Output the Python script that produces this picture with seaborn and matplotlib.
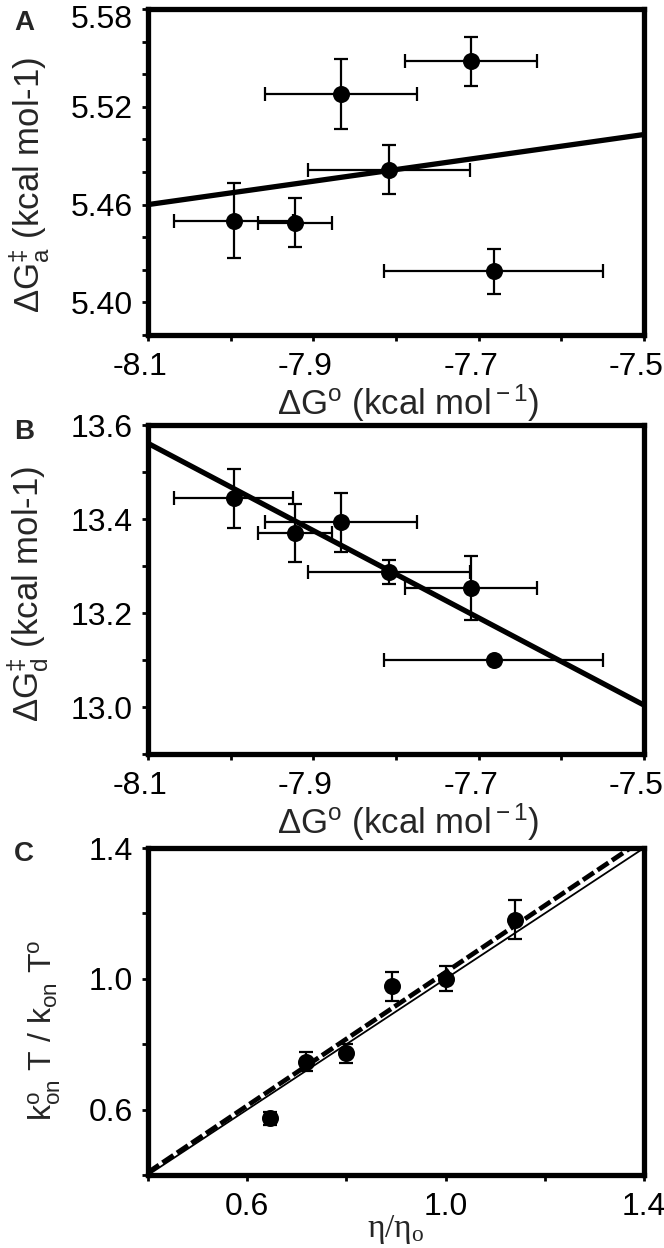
import numpy as np
import pandas as pd
import seaborn as sns
import matplotlib.pyplot as plt
import matplotlib.transforms as mtransforms
from matplotlib.ticker import MultipleLocator

# shared x for panels A and B
dg0 = [-7.996, -7.922, -7.867, -7.808, -7.709, -7.682]
dg0_err = [0.072, 0.045, 0.092, 0.098, 0.080, 0.132]

# panel A
dga = [5.450, 5.449, 5.528, 5.4815, 5.548, 5.419]
dga_err = [0.023, 0.015, 0.0216, 0.0153, 0.015, 0.0138]
fit_a_x = [-8.1, -7.5]
fit_a_y = [5.460, 5.503]

# panel B
dgd = [13.444, 13.370, 13.393, 13.287, 13.254, 13.100]
dgd_err = [0.063, 0.061, 0.063, 0.025, 0.068, 0.005]
fit_b_x = [-8.1, -7.5]
fit_b_y = [13.561, 13.004]

# panel C
visc = [0.645, 0.719, 0.800, 0.891, 1.000, 1.140]
kratio = [0.574, 0.747, 0.772, 0.977, 1.000, 1.181]
kratio_err = [0.02, 0.028, 0.028, 0.044, 0.038, 0.060]
fit_c_x = [0.4, 1.4]
fit_c_y = [0.408, 1.428]
ident_x = [0.4, 1.4]
ident_y = [0.4, 1.4]

dg_ticks = [-8.1, -7.9, -7.7, -7.5]
dg_ticklabels = ["-8.1", "-7.9", "-7.7", "-7.5"]

sns.set_theme(style="ticks")
plt.rcParams["font.family"] = ["Liberation Sans", "DejaVu Sans"]
plt.rcParams["mathtext.fontset"] = "custom"
plt.rcParams["mathtext.rm"] = "Liberation Sans"
plt.rcParams["mathtext.it"] = "Liberation Sans:italic"
plt.rcParams["mathtext.bf"] = "Liberation Sans:bold"
plt.rcParams["axes.unicode_minus"] = False

fig = plt.figure(figsize=(6.64, 12.48), dpi=100)
W, H = 664, 1248


def make_axes(top, bottom):
    return fig.add_axes([148 / W, 1 - bottom / H, 496 / W, (bottom - top) / H])


def style(ax):
    for s in ax.spines.values():
        s.set_linewidth(3.8)
        s.set_color("black")
    ax.tick_params(which="both", direction="out", length=4, width=2,
                   color="black", labelsize=23, labelcolor="black")
    ax.tick_params(axis="y", pad=7)
    ax.tick_params(axis="x", pad=8)
    ax.set_facecolor("white")


def nudge(labels, dx, dy):
    off = mtransforms.ScaledTranslation(dx / 100, dy / 100, fig.dpi_scale_trans)
    for lab in labels:
        lab.set_transform(lab.get_transform() + off)


def points(ax, x, y, yerr, xerr=None):
    ax.errorbar(x, y, yerr=yerr, xerr=xerr, fmt="none", ecolor="black",
                elinewidth=1.6, capsize=5, capthick=1.6, zorder=2)
    sns.scatterplot(x=x, y=y, ax=ax, color="black", s=150, edgecolor="black",
                    linewidth=0, zorder=3, legend=False)


# ---- A
axA = make_axes(9, 335)
sns.lineplot(x=fit_a_x, y=fit_a_y, ax=axA, color="black", lw=3.8, zorder=1)
points(axA, dg0, dga, dga_err, dg0_err)
axA.set_xlim(-8.1, -7.5)
axA.set_ylim(5.38, 5.58)
axA.set_xticks(dg_ticks)
axA.set_xticklabels(dg_ticklabels)
axA.xaxis.set_minor_locator(MultipleLocator(0.1))
axA.set_yticks([5.40, 5.46, 5.52, 5.58])
axA.set_yticklabels(["5.40", "5.46", "5.52", "5.58"])
axA.yaxis.set_minor_locator(MultipleLocator(0.02))
axA.set_xlabel(r"$\Delta$G$^{\rm o}$ (kcal mol$^{\rm -1}$)", fontsize=25)
axA.set_ylabel(r"$\Delta$G$^{\ddag}_{\rm a}$ (kcal mol-1)", fontsize=25)
axA.xaxis.set_label_coords(0.524, -0.145)
axA.yaxis.set_label_coords(-0.196, 0.46)
style(axA)
nudge(axA.get_xticklabels(), -8, 0)
nudge(axA.get_yticklabels()[-1:], 0, -7)

# ---- B
axB = make_axes(425, 754)
sns.lineplot(x=fit_b_x, y=fit_b_y, ax=axB, color="black", lw=3.8, zorder=1)
points(axB, dg0, dgd, dgd_err, dg0_err)
axB.set_xlim(-8.1, -7.5)
axB.set_ylim(12.9, 13.6)
axB.set_xticks(dg_ticks)
axB.set_xticklabels(dg_ticklabels)
axB.xaxis.set_minor_locator(MultipleLocator(0.1))
axB.set_yticks([13.0, 13.2, 13.4, 13.6])
axB.set_yticklabels(["13.0", "13.2", "13.4", "13.6"])
axB.yaxis.set_minor_locator(MultipleLocator(0.1))
axB.set_xlabel(r"$\Delta$G$^{\rm o}$ (kcal mol$^{\rm -1}$)", fontsize=25)
axB.set_ylabel(r"$\Delta$G$^{\ddag}_{\rm d}$ (kcal mol-1)", fontsize=25)
axB.xaxis.set_label_coords(0.524, -0.145)
axB.yaxis.set_label_coords(-0.196, 0.486)
style(axB)
nudge(axB.get_xticklabels(), -8, 0)

# ---- C
axC = make_axes(848, 1175)
sns.lineplot(x=ident_x, y=ident_y, ax=axC, color="black", lw=1.3, zorder=1)
sns.lineplot(x=fit_c_x, y=fit_c_y, ax=axC, color="black", lw=3.4, zorder=1)
axC.lines[-1].set_dashes([2.8, 0.9])
points(axC, visc, kratio, kratio_err)
axC.set_xlim(0.4, 1.4)
axC.set_ylim(0.4, 1.4)
axC.set_xticks([0.6, 1.0, 1.4])
axC.set_xticklabels(["0.6", "1.0", "1.4"])
axC.xaxis.set_minor_locator(MultipleLocator(0.2))
axC.set_yticks([0.6, 1.0, 1.4])
axC.set_yticklabels(["0.6", "1.0", "1.4"])
axC.yaxis.set_minor_locator(MultipleLocator(0.2))
axC.set_xlabel(r"$\mathregular{\eta/\eta_o}$", fontsize=24,
               fontfamily=["Liberation Serif", "DejaVu Serif"])
axC.set_ylabel(r"k$^{\rm o}_{\rm on}$ T / k$_{\rm on}$ T$^{\rm o}$", fontsize=23)
axC.xaxis.set_label_coords(0.5, -0.115)
axC.yaxis.set_label_coords(-0.172, 0.443)
style(axC)

for letter, ypix in [("A", 23), ("B", 432), ("C", 854)]:
    fig.text(24 / W, 1 - ypix / H, letter, fontsize=20, fontweight="bold",
             ha="center", va="center")

fig.savefig("out.png", dpi=100, facecolor="white")
